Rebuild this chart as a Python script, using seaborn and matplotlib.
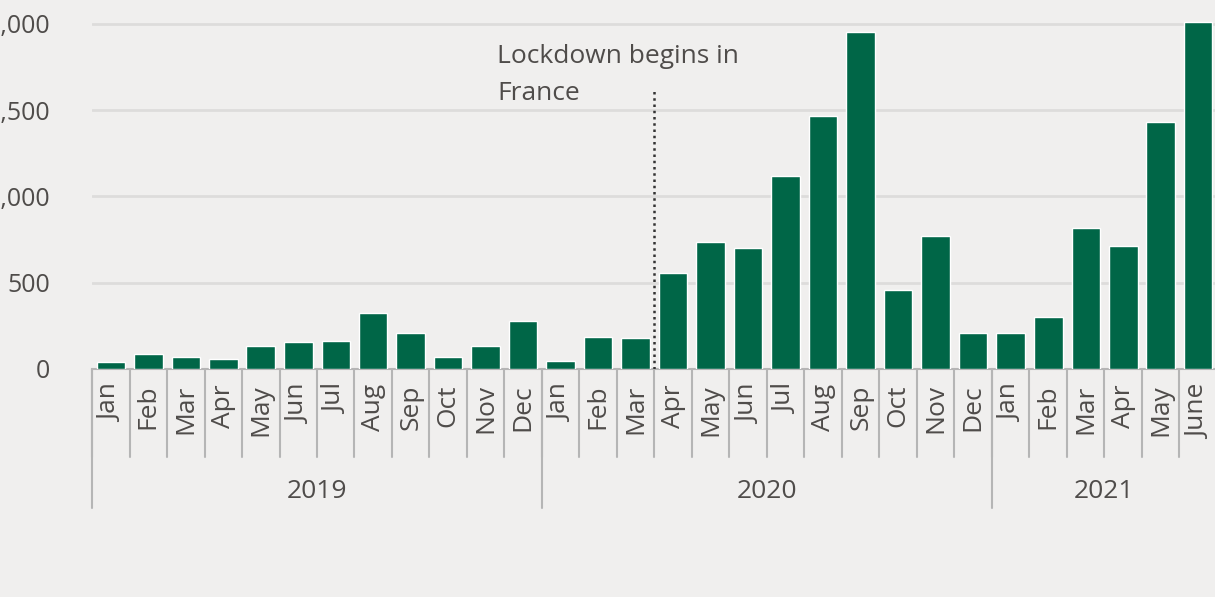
import numpy as np
import pandas as pd
import matplotlib.pyplot as plt
import seaborn as sns

# ------------------------------------------------------------
# Data
# ------------------------------------------------------------

years = ["2019", "2020", "2021"]
months_2019 = ["Jan", "Feb", "Mar", "Apr", "May", "Jun",
               "Jul", "Aug", "Sep", "Oct", "Nov", "Dec"]
months_2020 = ["Jan", "Feb", "Mar", "Apr", "May", "Jun",
               "Jul", "Aug", "Sep", "Oct", "Nov", "Dec"]
months_2021 = ["Jan", "Feb", "Mar", "Apr", "May", "June"]

values_2019 = [40, 87, 70, 58, 134, 157, 163, 326, 209, 70, 134, 279]
values_2020 = [47, 186, 180, 558, 738, 703, 1116, 1465, 1953, 459, 770, 209]
values_2021 = [209, 302, 820, 715, 1430, 2012]

y_ticks = [0, 500, 1000, 1500, 2000]
lockdown_label = "Lockdown begins in\nFrance"
lockdown_pos = 14.5      # between Mar and Apr 2020
lockdown_top = 1610

# ------------------------------------------------------------
# Build table
# ------------------------------------------------------------

month_lists = [months_2019, months_2020, months_2021]
value_lists = [values_2019, values_2020, values_2021]

rows = []
for yr, ms, vs in zip(years, month_lists, value_lists):
    for m, v in zip(ms, vs):
        rows.append({"key": f"{yr}-{m}", "year": yr, "month": m, "value": v})
df = pd.DataFrame(rows)

# ------------------------------------------------------------
# Style
# ------------------------------------------------------------

BG = "#f0efee"
GREEN = "#006647"
TEXT = "#4f4c4a"
GRID = "#dddcdb"
SEP = "#b5b5b5"

sns.set_style("white")
plt.rcParams["font.family"] = ["Open Sans", "DejaVu Sans"]

fig = plt.figure(figsize=(12.15, 5.97), dpi=100, facecolor=BG)
ax = fig.add_axes([92 / 1215, (597 - 369) / 597, (1217 - 92) / 1215, 369 / 597])
ax.set_facecolor(BG)

sns.barplot(data=df, x="key", y="value", color=GREEN, saturation=1,
            width=0.76, ax=ax, zorder=3)

ax.set_xlim(-0.5, len(df) - 0.5)
ax.set_ylim(0, 2139)

# y axis (left part of the labels is cut by the frame, as in the source)
ax.set_yticks(y_ticks)
ax.set_yticklabels([f"{t:,}" for t in y_ticks], fontsize=18, color=TEXT)
ax.tick_params(axis="y", length=0, pad=30)
ax.yaxis.grid(True, color=GRID, linewidth=2, zorder=0)

# x axis
ax.set_xticks(range(len(df)))
ax.set_xticklabels(df["month"], rotation=90, fontsize=19, color=TEXT)
ax.tick_params(axis="x", length=0, pad=11)
ax.set_xlabel("")
ax.set_ylabel("")

for s in ["top", "right", "left"]:
    ax.spines[s].set_visible(False)
ax.spines["bottom"].set_color(SEP)
ax.spines["bottom"].set_linewidth(1.5)

# hierarchical axis separators
trans = ax.get_xaxis_transform()
for b in np.arange(-0.5, len(df), 1):
    ax.plot([b, b], [0, -0.238], transform=trans, clip_on=False,
            color=SEP, linewidth=1.5)

start = 0
for yr, ms in zip(years, month_lists):
    ax.plot([start - 0.5, start - 0.5], [0, -0.377], transform=trans,
            clip_on=False, color=SEP, linewidth=1.5)
    center = start + (len(ms) - 1) / 2
    ax.text(center, -0.333, yr, transform=trans, ha="center", va="center",
            fontsize=19, color=TEXT)
    start += len(ms)

# lockdown annotation
ax.vlines(lockdown_pos, 0, lockdown_top, colors="#333333",
          linestyles=(0, (1, 1.5)), linewidth=1.8, zorder=4)
ax.text(10.3, 1885, lockdown_label, ha="left", va="top", fontsize=19,
        color=TEXT, linespacing=1.65)

fig.savefig("out.png", dpi=100, facecolor=BG)
